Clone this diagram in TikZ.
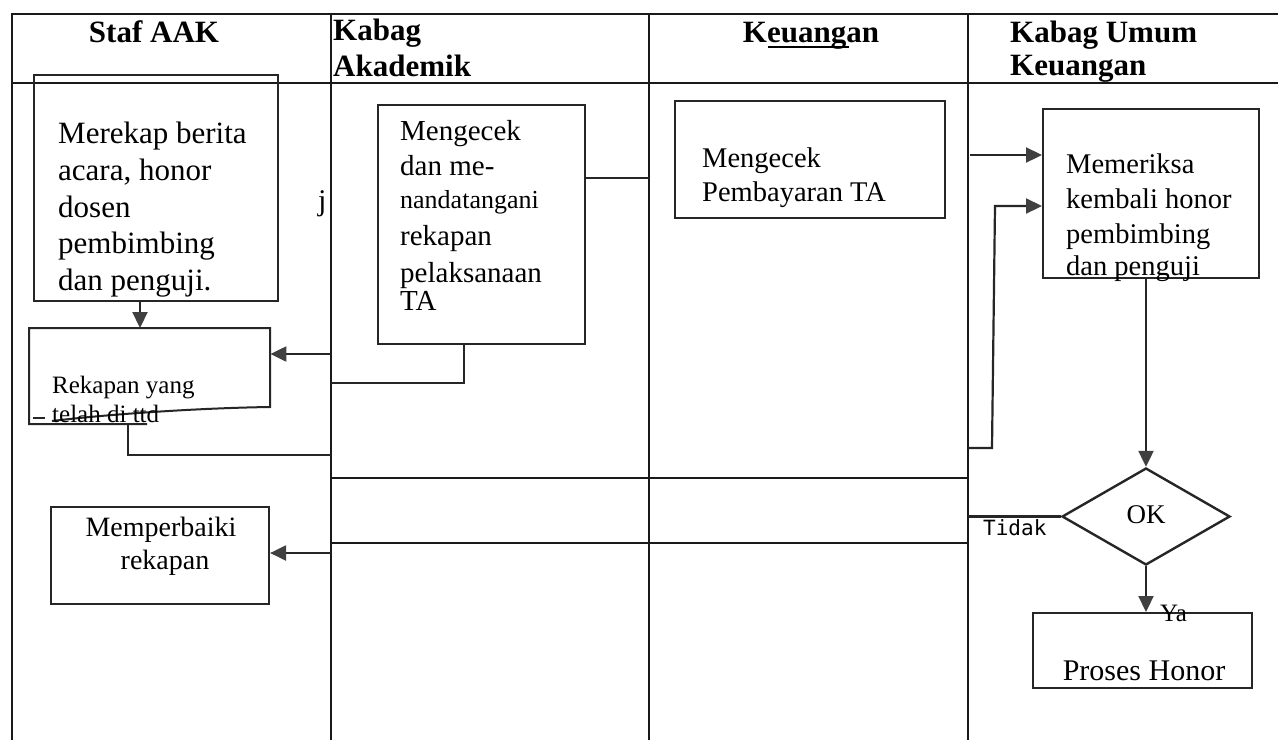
\documentclass[tikz,border=0pt]{standalone}
\usepackage{fontspec}
\setmainfont{Liberation Serif}
\newfontfamily\monofont{DejaVu Sans Mono}
\usetikzlibrary{shapes.geometric,arrows.meta}
\begin{document}
\begin{tikzpicture}[x=1pt,y=-1pt,
  lane/.style={line width=2.7pt, draw=black!90},
  box/.style={draw=black!85, line width=2.1pt, inner sep=0pt, anchor=north west},
  conn/.style={line width=2.2pt, draw=black!85},
  arr/.style={conn, -{Triangle[length=16pt,width=15pt,color=black!75]}},
  txt/.style={anchor=base west, inner sep=0pt, font=\fontsize{30}{36}\selectfont},
  hdr/.style={anchor=base west, inner sep=0pt, font=\fontsize{31}{37}\selectfont\bfseries}
]
\useasboundingbox (0,0) rectangle (1278,740);
\fill[white] (0,0) rectangle (1278,740);

% swimlane frame
\draw[lane] (12,740) -- (12,14) -- (1278,14);
\draw[lane] (12,83) -- (1278,83);
\draw[lane] (331,14) -- (331,740);
\draw[lane] (649,14) -- (649,740);
\draw[lane] (968,14) -- (968,740);
\draw[lane] (331,478) -- (968,478);
\draw[lane] (331,543) -- (968,543);

% headers
\node[hdr, anchor=base] (h1) at (154,42) {Staf AAK};
\node[hdr] (h2a) at (333,40) {Kabag};
\node[hdr] (h2b) at (333,76) {Akademik};
\node[hdr, anchor=base] (h3) at (811,42) {Keuangan};
\draw[line width=2.6pt] (768,47) -- (849,47);
\node[hdr] (h4a) at (1010,42) {Kabag Umum};
\node[hdr] (h4b) at (1010,75) {Keuangan};

% boxes
\node[box, minimum width=244pt, minimum height=226pt] (b1) at (33,74) {};
\node[inner sep=0pt, minimum width=241pt, minimum height=96pt, anchor=north west] (b2) at (29,328) {};
\draw[conn, line width=2pt] (147,424) -- (29,424) -- (29,328) -- (270,328) -- (270,407)
  .. controls (200,408) and (110,414) .. (52,421);
\draw[conn, line width=1.8pt] (33,418) -- (45,418);
\node[box, minimum width=207pt, minimum height=239pt] (b3) at (377,104) {};
\node[box, minimum width=270pt, minimum height=117pt] (b4) at (674,100) {};
\node[box, minimum width=216pt, minimum height=169pt] (b5) at (1042,108) {};
\node[draw=black!85, line width=2.4pt, shape=diamond, inner sep=0pt, minimum width=168pt, minimum height=97pt] (dm) at (1146,516.5) {};
\node[box, minimum width=218pt, minimum height=97pt] (b6) at (50,506) {};
\node[box, minimum width=219pt, minimum height=75pt] (b7) at (1032,612) {};

% texts
\node[txt, font=\fontsize{31}{37}\selectfont] (t1a) at (58,143) {Merekap berita};
\node[txt, font=\fontsize{31}{37}\selectfont] (t1b) at (58,180) {acara, honor};
\node[txt, font=\fontsize{31}{37}\selectfont] (t1c) at (58,217) {dosen};
\node[txt, font=\fontsize{31}{37}\selectfont] (t1d) at (58,253) {pembimbing};
\node[txt, font=\fontsize{31}{37}\selectfont] (t1e) at (58,290) {dan penguji.};

\node[txt, font=\fontsize{25}{30}\selectfont] (t2a) at (52,393) {Rekapan yang};
\node[txt, font=\fontsize{25}{30}\selectfont] (t2b) at (52,422) {telah di ttd};

\node[txt, font=\fontsize{29}{35}\selectfont] (t3a) at (400,140) {Mengecek};
\node[txt, font=\fontsize{29}{35}\selectfont] (t3b) at (400,175) {dan me-};
\node[txt, font=\fontsize{26}{31}\selectfont] (t3c) at (400,208) {nandatangani};
\node[txt, font=\fontsize{29}{35}\selectfont] (t3d) at (400,245) {rekapan};
\node[txt, font=\fontsize{29}{35}\selectfont] (t3e) at (400,282) {pelaksanaan};
\node[txt, font=\fontsize{29}{35}\selectfont] (t3f) at (400,310) {TA};

\node[txt, font=\fontsize{28.5}{34}\selectfont] (t4a) at (702,167) {Mengecek};
\node[txt, font=\fontsize{28.5}{34}\selectfont] (t4b) at (702,201) {Pembayaran TA};

\node[txt, font=\fontsize{28.5}{34}\selectfont] (t5a) at (1066,173) {Memeriksa};
\node[txt, font=\fontsize{28.5}{34}\selectfont] (t5b) at (1066,208) {kembali honor};
\node[txt, font=\fontsize{28.5}{34}\selectfont] (t5c) at (1066,243) {pembimbing};
\node[txt, font=\fontsize{28.5}{34}\selectfont] (t5d) at (1066,275) {dan penguji};

\node[txt, anchor=base, font=\fontsize{28}{34}\selectfont] (t6a) at (161,536) {Memperbaiki};
\node[txt, anchor=base, font=\fontsize{28}{34}\selectfont] (t6b) at (165,569) {rekapan};

\node[txt, anchor=base, font=\fontsize{30}{36}\selectfont] (t7) at (1144,680) {Proses Honor};
\node[txt, anchor=base, font=\fontsize{27}{32}\selectfont] (tok) at (1146,523) {OK};
\node[txt, font=\fontsize{21}{25}\monofont] (ttidak) at (983,535) {Tidak};
\node[txt, font=\fontsize{25}{30}\selectfont] (tya) at (1160,621) {Ya};
\node[txt] (tj) at (318,210) {j};

% connector coordinates
\coordinate (ax1) at (140,0);
\coordinate (k1) at (331,354);
\coordinate (c3) at (464,383);
\coordinate (c3w) at (331,383);
\coordinate (c2) at (128,455);
\coordinate (c2e) at (331,455);
\coordinate (c4) at (649,178);
\coordinate (c5) at (970,155);
\coordinate (c6) at (968,448);
\coordinate (c6a) at (992,448);
\coordinate (c6b) at (995,206);
\coordinate (c8) at (968,516.5);
\coordinate (c9) at (331,553);

% connectors
\draw[arr] (b1.south -| ax1) -- (b2.north -| ax1);
\draw[arr] (k1) -- (k1 -| b2.east);
\draw[conn] (b3.south -| c3) -- (c3) -- (c3w);
\draw[conn] (b2.south -| c2) -- (c2) -- (c2e);
\draw[conn] (c4 -| b3.east) -- (c4);
\draw[arr] (c5) -- (c5 -| b5.west);
\draw[arr] (c6) -- (c6a) -- (c6b) -- (c6b -| b5.west);
\draw[arr] (b5.south -| dm.north) -- (dm.north);
\draw[conn] (dm.west) -- (c8);
\draw[arr] (dm.south) -- (b7.north -| dm.south);
\draw[arr] (c9) -- (c9 -| b6.east);
\end{tikzpicture}
\end{document}
